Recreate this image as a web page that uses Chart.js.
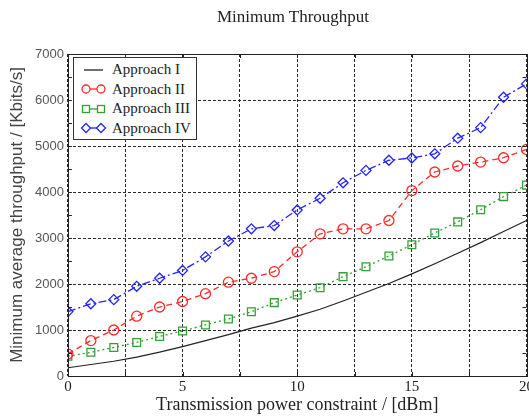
<!DOCTYPE html>
<html>
<head>
<meta charset="utf-8">
<script src="https://cdn.jsdelivr.net/npm/chart.js@4.4.0/dist/chart.umd.min.js"></script>
<style>
html, body { margin:0; padding:0; background:#fff; overflow:hidden; width:529px; height:420px; }
#wrap { position:relative; width:538px; height:420px; }
#ttl { position:absolute; left:193px; top:7px; width:200px; text-align:center; font:17px 'Liberation Serif', serif; color:#222; line-height:20px; }
#leg { position:absolute; left:73px; top:57px; width:124px; height:83px; border:1px solid #333; background:#fff; box-sizing:border-box; padding:2px 0 0 6px; font:15px 'Liberation Serif', serif; color:#222; }
.row { height:19.5px; display:flex; align-items:center; white-space:nowrap; }
.row svg { margin-right:5px; }
</style>
</head>
<body>
<div id="wrap">
  <canvas id="c"></canvas>
  <div id="ttl">Minimum Throughput</div>
  <div id="leg"></div>
</div>
<script>
// x: transmission power constraint [dBm]
const POWER = [0,1,2,3,4,5,6,7,8,9,10,11,12,13,14,15,16,17,18,19,20];
const APPROACH_I   = [180, 250, 320, 410, 520, 640, 770, 900, 1040, 1160, 1300, 1450, 1630, 1820, 2010, 2220, 2440, 2670, 2900, 3140, 3380];
const APPROACH_II  = [480, 770, 1000, 1300, 1500, 1620, 1790, 2040, 2125, 2270, 2700, 3090, 3200, 3200, 3380, 4030, 4435, 4565, 4650, 4745, 4925];
const APPROACH_III = [430, 515, 620, 730, 860, 980, 1110, 1240, 1395, 1595, 1760, 1920, 2160, 2375, 2610, 2855, 3110, 3350, 3615, 3900, 4150];
const APPROACH_IV  = [1400, 1570, 1660, 1950, 2125, 2295, 2590, 2935, 3200, 3270, 3610, 3865, 4200, 4470, 4690, 4740, 4830, 5170, 5400, 6060, 6350];

const LABELS = ['Approach I', 'Approach II', 'Approach III', 'Approach IV'];
const COLORS = ['#222222', '#ff2a2a', '#33a033', '#2424ff'];
const SHAPES = [false, 'circle', 'rect', 'rectRot'];
const DASHES = [[], [6,4], [2,3], [8,3,2,3]];
const SERIES = [APPROACH_I, APPROACH_II, APPROACH_III, APPROACH_IV];

const serif = "'Liberation Serif', 'Times New Roman', serif";
const sans = "'Liberation Sans', Arial, sans-serif";

// legend (html)
const leg = document.getElementById('leg');
LABELS.forEach((lab, i) => {
    let col = COLORS[i], mk = '';
    const m = (cx) => {
        if (SHAPES[i] === 'circle') return `<circle cx="${cx}" cy="6" r="4" fill="#fff" stroke="${col}" stroke-width="1.3"/>`;
        if (SHAPES[i] === 'rect') return `<rect x="${cx-3.5}" y="2.5" width="7" height="7" fill="#fff" stroke="${col}" stroke-width="1.3"/>`;
        if (SHAPES[i] === 'rectRot') return `<polygon points="${cx},1.5 ${cx+4.5},6 ${cx},10.5 ${cx-4.5},6" fill="#fff" stroke="${col}" stroke-width="1.3"/>`;
        return '';
    };
    if (SHAPES[i]) mk = m(6) + m(21);
    let row = document.createElement('div'); row.className = 'row';
    row.innerHTML = `<svg width="27" height="12"><line x1="4" y1="6" x2="23" y2="6" stroke="${col}" stroke-width="1.3"/>${mk}</svg><span>${lab}</span>`;
    leg.appendChild(row);
});

const framePlugin = {
    id: 'frame',
    afterDraw(chart) {
        const { ctx, chartArea: a, scales: { x, y } } = chart;
        ctx.save();
        ctx.strokeStyle = '#222'; ctx.lineWidth = 1;
        ctx.strokeRect(Math.round(a.left) + 0.5, Math.round(a.top) + 0.5, Math.round(a.right - a.left), Math.round(a.bottom - a.top));
        ctx.beginPath();
        for (let v = 0; v <= 7000; v += 500) {
            let py = Math.round(y.getPixelForValue(v)) + 0.5;
            ctx.moveTo(a.left, py); ctx.lineTo(a.left + 4, py);
            ctx.moveTo(a.right, py); ctx.lineTo(a.right - 4, py);
        }
        for (let v = 0; v <= 20; v += 2.5) {
            let px = Math.round(x.getPixelForValue(v)) + 0.5;
            ctx.moveTo(px, a.top); ctx.lineTo(px, a.top + 4);
            ctx.moveTo(px, a.bottom); ctx.lineTo(px, a.bottom - 4);
        }
        ctx.stroke();
        ctx.restore();
    }
};

const datasets = SERIES.map((s, i) => ({
    label: LABELS[i],
    data: POWER.map((p, k) => ({ x: p, y: s[k] })),
    borderColor: COLORS[i],
    backgroundColor: '#fff',
    borderWidth: i === 0 ? 1.2 : 1.3,
    borderDash: DASHES[i],
    pointStyle: SHAPES[i] || 'circle',
    pointRadius: SHAPES[i] ? (SHAPES[i] === 'rect' ? 5.5 : 5) : 0,
    pointBorderWidth: 1.3,
    pointBorderColor: COLORS[i],
    pointBackgroundColor: 'rgba(255,255,255,0)',
    tension: 0,
    fill: false
}));

new Chart(document.getElementById('c'), {
    type: 'line',
    data: { datasets: datasets },
    plugins: [framePlugin],
    options: {
        responsive: true, maintainAspectRatio: false, animation: false,
        layout: { padding: { top: 54, left: 6, right: 0, bottom: 2 } },
        plugins: { legend: { display: false }, title: { display: false }, tooltip: { enabled: false } },
        scales: {
            x: {
                type: 'linear', min: 0, max: 20,
                grid: { color: '#2a2a2a', lineWidth: 1, drawTicks: false },
                border: { display: false, dash: [3, 2] },
                ticks: { stepSize: 2.5, autoSkip: false, maxRotation: 0, padding: 4, color: '#222',
                         font: { family: serif, size: 15, lineHeight: 1 },
                         callback: v => (v % 5 === 0 ? String(v) : '') },
                title: { display: true, text: 'Transmission power constraint / [dBm]', color: '#222',
                         font: { family: serif, size: 18, lineHeight: 1 }, padding: { top: -3, bottom: 4 } }
            },
            y: {
                min: 0, max: 7000,
                grid: { color: '#2a2a2a', lineWidth: 1, drawTicks: false },
                border: { display: false, dash: [3, 2] },
                ticks: { stepSize: 1000, padding: 4, color: '#555', font: { family: sans, size: 13 },
                         callback: v => String(v) },
                title: { display: true, text: 'Minimum average throughput / [Kbits/s]', color: '#444',
                         font: { family: sans, size: 17, lineHeight: 1 }, padding: { top: 3, bottom: 5 } }
            }
        }
    }
});
</script>
</body>
</html>
